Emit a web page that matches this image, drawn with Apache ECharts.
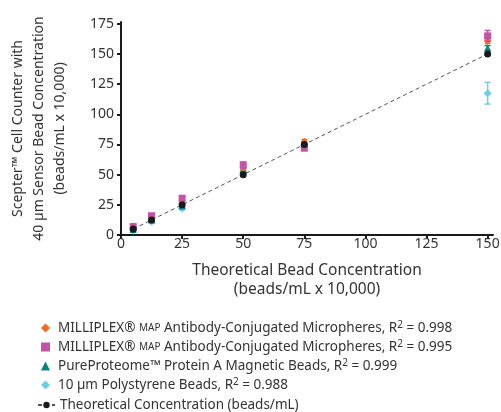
<!DOCTYPE html>
<html>
<head>
<meta charset="utf-8">
<script src="https://cdn.jsdelivr.net/npm/echarts@6/dist/echarts.min.js"></script>
<style>
  html, body { margin: 0; padding: 0; background: #fff; }
  #chart { width: 501px; height: 412px; }
</style>
</head>
<body>
<div id="chart"></div>
<script>
// bead concentrations (beads/mL x 10,000)
const xVals = [5, 12.5, 25, 50, 75, 150];
const orangeVals = [6, 14.5, 28.5, 56, 77, 161];
const orangeErr = [1, 1, 1.5, 2, 2, 2];
const magentaVals = [7, 16, 30.5, 58, 72, 165];
const magentaErr = [1, 1, 1.5, 2.5, 2, 4.5];
const tealVals = [4.5, 12.5, 24, 54, 75, 155];
const tealErr = [0.5, 1, 1, 1.5, 1.5, 2];
const cyanVals = [3.5, 11, 22, 52, 74, 117.5];
const cyanErr = [0.5, 1, 1, 1.5, 1.5, 9];
const theoryVals = [5, 12.5, 25, 50, 75, 150];
const tickLabels = [0, 25, 50, 75, 100, 125, 150, 175];

const names = [
  'MILLIPLEX® MAP Antibody-Conjugated Micropheres, R2 = 0.998',
  'MILLIPLEX® MAP Antibody-Conjugated Micropheres, R2 = 0.995',
  'PureProteome™ Protein A Magnetic Beads, R2 = 0.999',
  '10 µm Polystyrene Beads, R2 = 0.988',
  'Theoretical Concentration (beads/mL)'
];

const FONT = 'Noto Sans';
const TXT = '#333';

function pairs (ys) {
  return xVals.map((x, i) => [x, ys[i]]);
}
function triples (ys, errs) {
  return xVals.map((x, i) => [x, ys[i], errs[i]]);
}

function errorSeries (ys, errs, color, z) {
  return {
    type: 'custom',
    z: z,
    silent: true,
    data: triples(ys, errs),
    renderItem: function (params, api) {
      const x = api.value(0);
      const y = api.value(1);
      const e = api.value(2);
      const top = api.coord([x, y + e]);
      const bot = api.coord([x, y - e]);
      const style = { stroke: color, lineWidth: 1.5 };
      return {
        type: 'group',
        children: [
          { type: 'line', shape: { x1: top[0], y1: top[1], x2: bot[0], y2: bot[1] }, style: style },
          { type: 'line', shape: { x1: top[0] - 3, y1: top[1], x2: top[0] + 3, y2: top[1] }, style: style },
          { type: 'line', shape: { x1: bot[0] - 3, y1: bot[1], x2: bot[0] + 3, y2: bot[1] }, style: style }
        ]
      };
    }
  };
}

const legendText = {
  fontFamily: FONT,
  fontSize: 13.5,
  color: TXT,
  lineHeight: 16,
  rich: {
    sc: { fontFamily: FONT, fontSize: 10, color: TXT, lineHeight: 16 },
    sup: { fontFamily: FONT, fontSize: 10, color: TXT, lineHeight: 16, verticalAlign: 'top' }
  }
};
function legendFormat (name) {
  return name.replace('MAP', '{sc|MAP}').replace('R2', 'R{sup|2}');
}

const axisCommon = {
  type: 'value',
  min: 0,
  splitLine: { show: false },
  axisLine: { show: true, lineStyle: { color: '#1a1a1a', width: 2 } },
  axisTick: { show: true, length: 4, lineStyle: { color: '#1a1a1a', width: 2 }, customValues: tickLabels }
};

const chart = echarts.init(document.getElementById('chart'));
chart.setOption({
  animation: false,
  grid: { left: 121, right: 8, top: 22, bottom: 177, containLabel: false, outerBoundsMode: 'none' },
  xAxis: Object.assign({}, axisCommon, {
    max: 152.2,
    axisTick: Object.assign({}, axisCommon.axisTick, { customValues: tickLabels.slice(0, 7) }),
    axisLabel: { customValues: tickLabels.slice(0, 7), margin: 2, fontFamily: FONT, fontSize: 14, color: TXT },
    name: 'Theoretical Bead Concentration\n(beads/mL x 10,000)',
    nameLocation: 'middle',
    nameGap: 26,
    nameTextStyle: { fontFamily: FONT, fontSize: 15.5, color: TXT, lineHeight: 19 }
  }),
  yAxis: Object.assign({}, axisCommon, {
    max: 176.5,
    axisLabel: { customValues: tickLabels, margin: 7, fontFamily: FONT, fontSize: 14, color: TXT },
    name: 'Scepter™ Cell Counter with\n40 µm Sensor Bead Concentration\n(beads/mL x 10,000)',
    nameLocation: 'middle',
    nameGap: 50,
    nameTextStyle: { fontFamily: FONT, fontSize: 14, color: TXT, lineHeight: 21 }
  }),
  legend: [
    {
      data: names.slice(0, 4),
      orient: 'vertical',
      left: 41,
      top: 320,
      padding: 0,
      itemWidth: 9,
      itemHeight: 9,
      itemGap: 3,
      selectedMode: false,
      textStyle: Object.assign({ padding: [0, 0, 0, 3] }, legendText),
      formatter: legendFormat
    },
    {
      data: names.slice(4),
      orient: 'vertical',
      left: 37,
      top: 397,
      padding: 0,
      itemWidth: 17,
      itemHeight: 8,
      selectedMode: false,
      textStyle: legendText,
      formatter: legendFormat
    }
  ],
  series: [
    { name: names[0], type: 'scatter', z: 4, symbol: 'diamond', symbolSize: [7, 9], itemStyle: { color: '#f26a24', opacity: 1 }, data: pairs(orangeVals) },
    { name: names[1], type: 'scatter', z: 5, symbol: 'rect', symbolSize: 7, itemStyle: { color: '#c253a8', opacity: 1 }, data: pairs(magentaVals) },
    { name: names[2], type: 'scatter', z: 3, symbol: 'triangle', symbolSize: 7, itemStyle: { color: '#0e7f7c', opacity: 1 }, data: pairs(tealVals) },
    { name: names[3], type: 'scatter', z: 2, symbol: 'diamond', symbolSize: 8, itemStyle: { color: '#6fcde0', opacity: 1 }, data: pairs(cyanVals) },
    {
      name: names[4], type: 'line', z: 6, symbol: 'circle', symbolSize: 7, showAllSymbol: true,
      itemStyle: { color: '#1a1a1a', borderWidth: 0 },
      lineStyle: { color: '#555', width: 1, type: [4, 3] },
      data: pairs(theoryVals)
    },
    errorSeries(orangeVals, orangeErr, '#f26a24', 4),
    errorSeries(magentaVals, magentaErr, '#c253a8', 5),
    errorSeries(tealVals, tealErr, '#0e7f7c', 3),
    errorSeries(cyanVals, cyanErr, '#6fcde0', 2)
  ]
});
</script>
</body>
</html>
